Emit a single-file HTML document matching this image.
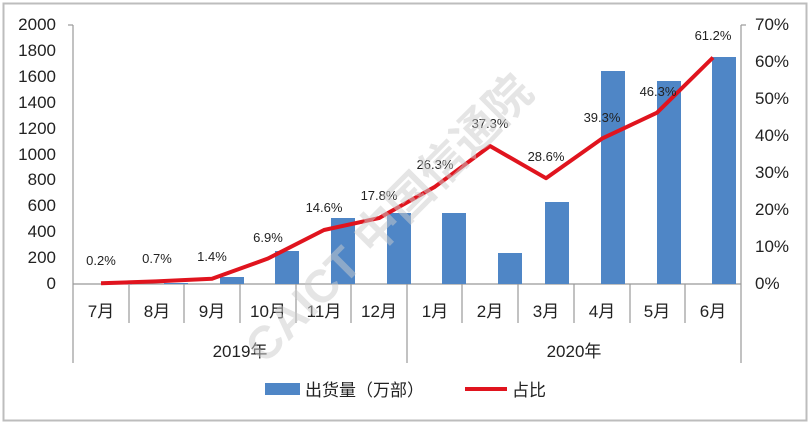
<!DOCTYPE html>
<html><head><meta charset="utf-8"><style>
body{margin:0;background:#fff}
text{font-family:"Liberation Sans","Noto Sans CJK SC",sans-serif;fill:#222}
</style></head><body>
<svg width="810" height="425" viewBox="0 0 810 425" xmlns="http://www.w3.org/2000/svg">
<rect x="3.5" y="3.5" width="803" height="417" fill="#fff" stroke="#bdbdbd" stroke-width="2"/>
<g font-size="17" text-anchor="end">
<text x="56" y="30">2000</text><text x="56" y="56">1800</text><text x="56" y="82">1600</text><text x="56" y="108">1400</text><text x="56" y="134">1200</text><text x="56" y="160">1000</text><text x="56" y="185">800</text><text x="56" y="211">600</text><text x="56" y="237">400</text><text x="56" y="263">200</text><text x="56" y="289">0</text>
</g>
<g font-size="17">
<text x="755" y="30">70%</text><text x="755" y="67">60%</text><text x="755" y="104">50%</text><text x="755" y="141">40%</text><text x="755" y="178">30%</text><text x="755" y="215">20%</text><text x="755" y="252">10%</text><text x="755" y="289">0%</text>
</g>
<g stroke="#999" stroke-width="1.2">
<line x1="73" y1="25" x2="73" y2="363"/><line x1="741" y1="25" x2="741" y2="363"/>
<line x1="407" y1="284" x2="407" y2="363"/>
<line x1="73" y1="284" x2="741" y2="284"/>
<line x1="68" y1="25" x2="73" y2="25"/><line x1="741" y1="25" x2="746" y2="25"/>
</g>
<g stroke="#999" stroke-width="1.2" id="v"></g>
<g fill="#4f86c6">
<rect x="108" y="284" width="24" height="0.5"/>
<rect x="164" y="283" width="24" height="1"/>
<rect x="220" y="277" width="24" height="7"/>
<rect x="275" y="251" width="24" height="33"/>
<rect x="331" y="218" width="24" height="66"/>
<rect x="387" y="213" width="24" height="71"/>
<rect x="442" y="213" width="24" height="71"/>
<rect x="498" y="253" width="24" height="31"/>
<rect x="545" y="202" width="24" height="82"/>
<rect x="601" y="71" width="24" height="213"/>
<rect x="657" y="81" width="24" height="203"/>
<rect x="712" y="57" width="24" height="227"/>
</g>
<polyline fill="none" stroke="#e0141e" stroke-width="4" stroke-linejoin="round" points="101,283.3 156,281.4 212,278.8 268,258.5 324,230 379,218.1 435,186.7 490,146 546,178.2 602,138.6 657,112.7 713,57.5"/>
<g font-size="13" text-anchor="middle">
<text x="101" y="265">0.2%</text><text x="157" y="263">0.7%</text><text x="212" y="261">1.4%</text><text x="268" y="242">6.9%</text><text x="324" y="212">14.6%</text><text x="379" y="200">17.8%</text><text x="435" y="169">26.3%</text><text x="490" y="128">37.3%</text><text x="546" y="161">28.6%</text><text x="602" y="122">39.3%</text><text x="658" y="96">46.3%</text><text x="713" y="40">61.2%</text>
</g>
<g font-size="17" text-anchor="middle">
<text x="101" y="317">7月</text><text x="157" y="317">8月</text><text x="212" y="317">9月</text><text x="268" y="317">10月</text><text x="324" y="317">11月</text><text x="379" y="317">12月</text><text x="435" y="317">1月</text><text x="490" y="317">2月</text><text x="546" y="317">3月</text><text x="602" y="317">4月</text><text x="657" y="317">5月</text><text x="713" y="317">6月</text>
<text x="240" y="357">2019年</text><text x="574" y="357">2020年</text>
</g>
<g stroke="#999" stroke-width="1.2">
<line x1="129" y1="284" x2="129" y2="323"/><line x1="184" y1="284" x2="184" y2="323"/><line x1="240" y1="284" x2="240" y2="323"/><line x1="296" y1="284" x2="296" y2="323"/><line x1="351" y1="284" x2="351" y2="323"/><line x1="462" y1="284" x2="462" y2="323"/><line x1="518" y1="284" x2="518" y2="323"/><line x1="574" y1="284" x2="574" y2="323"/><line x1="630" y1="284" x2="630" y2="323"/><line x1="685" y1="284" x2="685" y2="323"/>
</g>
<rect x="265" y="383" width="35" height="12" fill="#4f86c6"/>
<text x="305" y="396" font-size="17">出货量（万部）</text>
<line x1="465" y1="389" x2="507" y2="389" stroke="#e0141e" stroke-width="4"/>
<text x="512" y="396" font-size="17">占比</text>
<text x="400" y="230" font-size="46" font-weight="bold" transform="rotate(-45 400 230)" text-anchor="middle" style="fill:#ccc;opacity:0.5">CAICT 中国信通院</text>
</svg>
</body></html>
